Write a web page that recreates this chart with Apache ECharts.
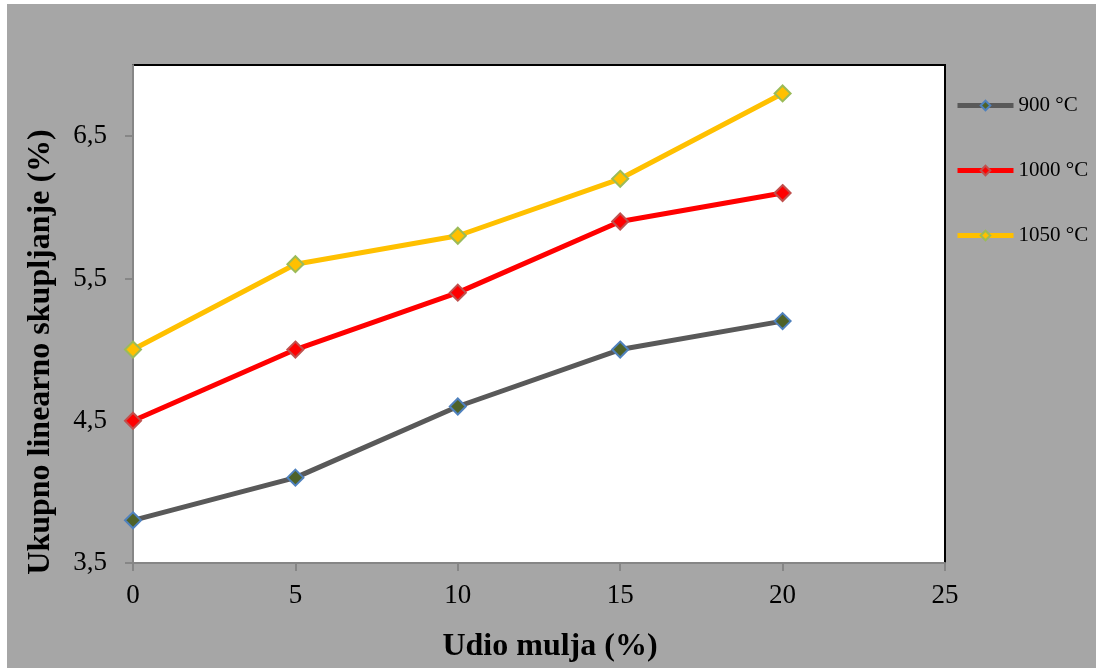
<!DOCTYPE html>
<html>
<head>
<meta charset="utf-8">
<script src="https://cdn.jsdelivr.net/npm/echarts@6/dist/echarts.min.js"></script>
<style>
html,body{margin:0;padding:0;background:#ffffff;}
#c{position:absolute;left:7px;top:4px;width:1089px;height:664px;}
</style>
</head>
<body>
<div id="c"></div>
<script>
const udio = [0, 5, 10, 15, 20];
const s900 = [3.8, 4.1, 4.6, 5.0, 5.2];
const s1000 = [4.5, 5.0, 5.4, 5.9, 6.1];
const s1050 = [5.0, 5.6, 5.8, 6.2, 6.8];
const yTicks = [3.5, 4.5, 5.5, 6.5];
const seriesNames = ['900 °C', '1000 °C', '1050 °C'];
const xTitle = 'Udio mulja (%)';
const yTitle = 'Ukupno linearno skupljanje (%)';

const font = '"Liberation Serif", "Times New Roman", serif';
const chart = echarts.init(document.getElementById('c'));
function pts(arr){ return udio.map((x,i)=>[x, arr[i]]); }
const styles = [
  {line:'#595959', fill:'#4f6228', border:'#4f81bd'},
  {line:'#ff0000', fill:'#ff0000', border:'#c0504d'},
  {line:'#ffc000', fill:'#ffc000', border:'#9bbb59'}
];
const data = [s900, s1000, s1050];
chart.setOption({
  backgroundColor:'#a6a6a6',
  animation:false,
  grid:{left:126, top:61, right:151, bottom:105, show:true, backgroundColor:'#ffffff', borderColor:'#000000', borderWidth:2},
  legend:{
    orient:'vertical', left:943, top:86, itemWidth:56, itemHeight:12, itemGap:44,
    textStyle:{fontFamily:font, fontSize:21, color:'#000'},
    lineStyle:{width:5},
    data:seriesNames
  },
  xAxis:{
    type:'value', min:0, max:25, interval:5,
    name:xTitle, nameLocation:'middle', nameGap:68,
    nameTextStyle:{fontFamily:font, fontSize:32, fontWeight:'bold', color:'#000', padding:[0,0,0,22]},
    axisLine:{show:true, lineStyle:{color:'#868686', width:2}},
    axisTick:{show:true, inside:false, length:8, lineStyle:{color:'#868686', width:2}},
    axisLabel:{fontFamily:font, fontSize:27, color:'#000', margin:19},
    splitLine:{show:false}
  },
  yAxis:{
    type:'value', min:3.5, max:7, interval:1,
    name:yTitle, nameLocation:'middle', nameGap:76, nameRotate:90,
    nameTextStyle:{fontFamily:font, fontSize:32, fontWeight:'bold', color:'#000', padding:[0,76,0,0]},
    axisLine:{show:true, lineStyle:{color:'#868686', width:2}},
    axisTick:{show:true, inside:false, length:8, customValues:yTicks, lineStyle:{color:'#868686', width:2}},
    axisLabel:{fontFamily:font, fontSize:27, color:'#000', margin:26, customValues:yTicks,
      formatter:function(v){ return v.toFixed(1).replace('.', ','); }},
    splitLine:{show:false}
  },
  series: seriesNames.map((n,i)=>({
    name:n, type:'line', data:pts(data[i]),
    symbol:'diamond', symbolSize:16,
    lineStyle:{color:styles[i].line, width:5},
    itemStyle:{color:styles[i].fill, borderColor:styles[i].border, borderWidth:2},
    z: 2+i
  }))
});
</script>
</body>
</html>
